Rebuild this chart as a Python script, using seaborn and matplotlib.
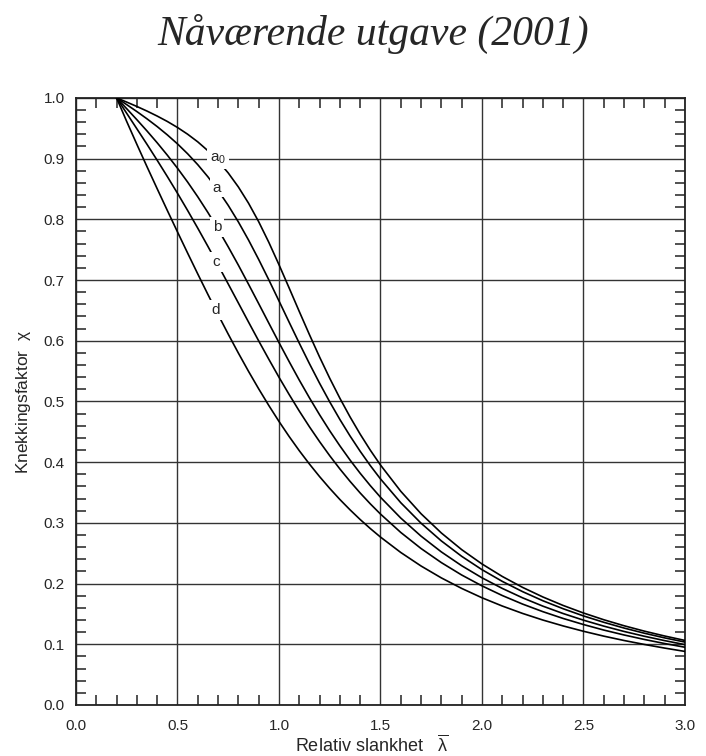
import numpy as np
import pandas as pd
import matplotlib
matplotlib.use("Agg")
import matplotlib.pyplot as plt
from matplotlib.ticker import MultipleLocator
import seaborn as sns

# relativ slankhet og knekkingsfaktor for kurvene a0, a, b, c, d
lam = [0.2, 0.25, 0.3, 0.35, 0.4, 0.45, 0.5, 0.55, 0.6, 0.65, 0.7, 0.75, 0.8, 0.85,
       0.9, 0.95, 1.0, 1.05, 1.1, 1.15, 1.2, 1.25, 1.3, 1.35, 1.4, 1.45, 1.5,
       1.6, 1.7, 1.8, 1.9, 2.0, 2.1, 2.2, 2.3, 2.4, 2.5, 2.6, 2.7, 2.8, 2.9, 3.0]
chi_a0 = [1.0, 0.9931, 0.9859, 0.9783, 0.9701, 0.9612, 0.9513, 0.9402, 0.9276, 0.9130,
          0.8961, 0.8764, 0.8533, 0.8266, 0.7961, 0.7621, 0.7253, 0.6870, 0.6482, 0.6101,
          0.5732, 0.5382, 0.5053, 0.4746, 0.4461, 0.4197, 0.3953,
          0.3520, 0.3150, 0.2833, 0.2559, 0.2323, 0.2117, 0.1937, 0.1779, 0.1639, 0.1515,
          0.1404, 0.1305, 0.1216, 0.1136, 0.1063]
chi_a = [1.0, 0.9889, 0.9775, 0.9655, 0.9528, 0.9391, 0.9243, 0.9080, 0.8900, 0.8700,
         0.8477, 0.8230, 0.7957, 0.7659, 0.7339, 0.7003, 0.6656, 0.6306, 0.5960, 0.5623,
         0.5300, 0.4993, 0.4703, 0.4432, 0.4179, 0.3943, 0.3724,
         0.3332, 0.2994, 0.2702, 0.2449, 0.2229, 0.2036, 0.1867, 0.1717, 0.1585, 0.1467,
         0.1362, 0.1267, 0.1182, 0.1105, 0.1036]
chi_b = [1.0, 0.9822, 0.9641, 0.9455, 0.9261, 0.9057, 0.8842, 0.8614, 0.8371, 0.8112,
         0.7837, 0.7547, 0.7245, 0.6931, 0.6612, 0.6290, 0.5970, 0.5657, 0.5352, 0.5060,
         0.4781, 0.4517, 0.4269, 0.4035, 0.3817, 0.3613, 0.3422,
         0.3079, 0.2781, 0.2521, 0.2294, 0.2095, 0.1920, 0.1765, 0.1628, 0.1506, 0.1397,
         0.1299, 0.1211, 0.1132, 0.1060, 0.0994]
chi_c = [1.0, 0.9746, 0.9491, 0.9235, 0.8973, 0.8705, 0.8430, 0.8146, 0.7854, 0.7554,
         0.7247, 0.6935, 0.6622, 0.6308, 0.5998, 0.5695, 0.5399, 0.5115, 0.4842, 0.4583,
         0.4338, 0.4106, 0.3888, 0.3684, 0.3492, 0.3313, 0.3145,
         0.2842, 0.2577, 0.2345, 0.2141, 0.1962, 0.1803, 0.1662, 0.1537, 0.1425, 0.1325,
         0.1234, 0.1153, 0.1079, 0.1012, 0.0951]
chi_d = [1.0, 0.9611, 0.9235, 0.8866, 0.8504, 0.8146, 0.7793, 0.7444, 0.7100, 0.6762,
         0.6431, 0.6109, 0.5797, 0.5496, 0.5208, 0.4933, 0.4671, 0.4423, 0.4189, 0.3969,
         0.3762, 0.3568, 0.3385, 0.3215, 0.3055, 0.2906, 0.2766,
         0.2512, 0.2289, 0.2093, 0.1920, 0.1766, 0.1630, 0.1508, 0.1399, 0.1302, 0.1214,
         0.1134, 0.1062, 0.0997, 0.0937, 0.0882]

curve_names = ["a0", "a", "b", "c", "d"]
label_text = ["a$_0$", "a", "b", "c", "d"]
label_x = [0.70, 0.695, 0.695, 0.69, 0.69]
label_y = [0.900, 0.852, 0.787, 0.730, 0.651]

df = pd.DataFrame({
    "lam": lam * 5,
    "chi": chi_a0 + chi_a + chi_b + chi_c + chi_d,
    "kurve": sum([[n] * len(lam) for n in curve_names], []),
})

sns.set_style("white")
plt.rcParams["font.family"] = ["Liberation Sans", "DejaVu Sans"]
plt.rcParams["mathtext.fontset"] = "custom"
plt.rcParams["mathtext.rm"] = "Liberation Sans"
plt.rcParams["mathtext.it"] = "Liberation Sans"

fig = plt.figure(figsize=(7.06, 7.56), dpi=100)
ax = fig.add_axes([0.1076, 0.0675, 0.8626, 0.803])

sns.lineplot(data=df, x="lam", y="chi", hue="kurve", palette=["black"] * 5,
             legend=False, linewidth=1.2, ax=ax, zorder=3)

ax.set_xlim(0, 3.0)
ax.set_ylim(0, 1.0)
ax.xaxis.set_major_locator(MultipleLocator(0.5))
ax.xaxis.set_minor_locator(MultipleLocator(0.1))
ax.yaxis.set_major_locator(MultipleLocator(0.1))
ax.yaxis.set_minor_locator(MultipleLocator(0.02))
ax.grid(True, which="major", color="#333333", linewidth=1.0)
ax.tick_params(which="both", direction="in", top=True, right=True, bottom=True, left=True)
ax.tick_params(which="minor", length=7, width=1.1, color="#222222")
ax.tick_params(which="major", length=0, labelsize=11)
ax.tick_params(axis="x", which="major", pad=10)
ax.tick_params(axis="y", which="major", pad=8)
ax.set_xticklabels(["%.1f" % v for v in ax.get_xticks()])
ax.set_yticklabels(["%.1f" % v for v in ax.get_yticks()])
for s in ax.spines.values():
    s.set_linewidth(1.3)
    s.set_color("#222222")

for t, x, y in zip(label_text, label_x, label_y):
    ax.text(x, y, t, ha="center", va="center", fontsize=11, zorder=5,
            bbox=dict(facecolor="white", edgecolor="none", pad=2.0))

ax.set_xlabel(r"Relativ slankhet   $\overline{\lambda}$", fontsize=13)
ax.xaxis.label.set_va("baseline")
ax.xaxis.set_label_coords(0.486, -0.077)
ax.set_ylabel(r"Knekkingsfaktor  $\chi$", fontsize=12.5)
ax.yaxis.set_label_coords(-0.070, 0.5)

fig.text(0.529, 0.941, "Nåværende utgave (2001)", ha="center", va="baseline",
         fontsize=30, family=["Liberation Serif", "DejaVu Serif"], style="italic")

fig.savefig("out.png", dpi=100)
